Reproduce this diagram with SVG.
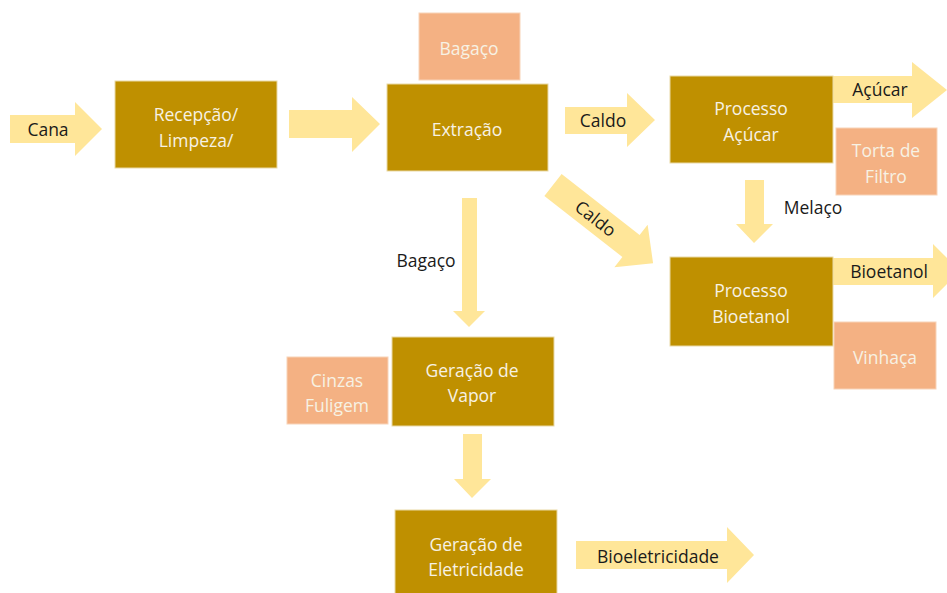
<svg xmlns="http://www.w3.org/2000/svg" width="947" height="593" viewBox="0 0 947 593">
<style>
.box{fill:#BF9000;stroke:#E9D9A6;stroke-width:1}
.side{fill:#F4B183;stroke:#F8D3B8;stroke-width:1}
.arr{fill:#FFE699}
.t{font-family:"Open Sans","Liberation Sans",sans-serif;font-size:17.5px;text-anchor:middle;dominant-baseline:central}
.w{fill:#F7F2E4}
.k{fill:#1a1a1a}
</style>
<rect width="947" height="593" fill="#ffffff"/>
<g id="connectors">
<polygon class="arr" points="10,115 75,115 75,102 102,129 75,156 75,143 10,143"/>
<polygon class="arr" points="289,110 352,110 352,97 380,124 352,152 352,138 289,138"/>
<polygon class="arr" points="565,107 627,107 627,93 655,120 627,147 627,134 565,134"/>
<polygon class="arr" points="833,76 912,76 912,62 947,90 912,118 912,103 833,103"/>
<polygon class="arr" points="833,258 933,258 933,244 960,271 933,298 933,285 833,285"/>
<polygon class="arr" transform="translate(553,185) rotate(38)" points="0,-14 99,-14 99,-27 127,0 99,27 99,14 0,14"/>
<polygon class="arr" points="745,180 764,180 764,224 773,224 754,243 736,224 745,224"/>
<polygon class="arr" points="462,198 477,198 477,311 485,311 469,327 453,311 462,311"/>
<polygon class="arr" points="463,434 482,434 482,479 491,479 472,498 454,479 463,479"/>
<polygon class="arr" points="576,541 727,541 727,527 754,555 727,583 727,569 576,569"/>
<text class="t k" x="48" y="129">Cana</text>
<text class="t k" x="603" y="120">Caldo</text>
<text class="t k" x="880" y="89">Açúcar</text>
<text class="t k" x="889" y="271">Bioetanol</text>
<text class="t k" x="813" y="207">Melaço</text>
<text class="t k" x="426" y="260">Bagaço</text>
<text class="t k" x="658" y="556">Bioeletricidade</text>
<text class="t k" transform="translate(596,218) rotate(38)" x="0" y="0">Caldo</text>
</g>
<g id="recepcao">
<rect class="box" x="115" y="81" width="162" height="87"/>
<text class="t w" x="196" y="114">Recepção/</text>
<text class="t w" x="196" y="140">Limpeza/</text>
</g>
<g id="bagaco-top">
<rect class="side" x="419" y="13" width="101" height="67"/>
<text class="t w" x="469" y="48">Bagaço</text>
</g>
<g id="extracao">
<rect class="box" x="387" y="84" width="161" height="87"/>
<text class="t w" x="467" y="129">Extração</text>
</g>
<g id="processo-acucar">
<rect class="box" x="670" y="76" width="163" height="87"/>
<text class="t w" x="751" y="108">Processo</text>
<text class="t w" x="751" y="134">Açúcar</text>
</g>
<g id="torta">
<rect class="side" x="836" y="128" width="101" height="67"/>
<text class="t w" x="886" y="150">Torta de</text>
<text class="t w" x="886" y="176">Filtro</text>
</g>
<g id="processo-bioetanol">
<rect class="box" x="670" y="257" width="163" height="89"/>
<text class="t w" x="751" y="290">Processo</text>
<text class="t w" x="751" y="316">Bioetanol</text>
</g>
<g id="vinhaca">
<rect class="side" x="834" y="322" width="102" height="67"/>
<text class="t w" x="885" y="357">Vinhaça</text>
</g>
<g id="cinzas">
<rect class="side" x="287" y="357" width="101" height="67"/>
<text class="t w" x="337" y="380">Cinzas</text>
<text class="t w" x="337" y="405">Fuligem</text>
</g>
<g id="vapor">
<rect class="box" x="392" y="337" width="162" height="89"/>
<text class="t w" x="472" y="370">Geração de</text>
<text class="t w" x="472" y="395">Vapor</text>
</g>
<g id="eletricidade">
<rect class="box" x="395" y="510" width="162" height="90"/>
<text class="t w" x="476" y="544">Geração de</text>
<text class="t w" x="476" y="569">Eletricidade</text>
</g>
</svg>
